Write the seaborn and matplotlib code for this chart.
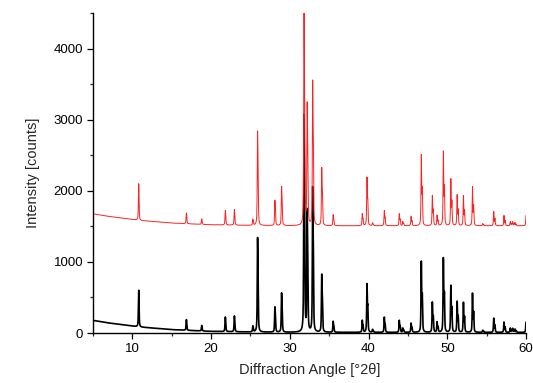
import numpy as np
import pandas as pd
import seaborn as sns
import matplotlib
matplotlib.use("Agg")
import matplotlib.pyplot as plt
from matplotlib.ticker import MultipleLocator

# ---- data ----
# peak positions (°2θ) and peak amplitudes above background (counts), measured pattern
peak_pos = [10.8, 16.85, 18.8, 21.8, 22.95, 25.3, 25.9, 28.1, 28.95, 31.8, 32.2, 32.9,
            34.05, 35.5, 39.2, 39.8, 40.5, 42.0, 43.9, 44.35, 45.4, 46.7, 48.1, 48.7,
            49.5, 50.45, 51.25, 52.05, 53.2, 54.5, 55.9, 57.2, 58.0, 58.3, 58.6, 60.0]
peak_amp = [515, 150, 77, 205, 222, 83, 1330, 356, 553, 3050, 1700, 2040,
            816, 155, 169, 685, 40, 215, 170, 60, 130, 1003, 426, 145,
            1050, 661, 436, 422, 553, 30, 201, 145, 60, 55, 45, 145]
# background of the measured pattern
bg_angle = [5, 6.7, 10.9, 15.1, 19.8, 25, 30, 40, 50, 60]
bg_counts = [178, 146, 85, 47, 24, 14, 10, 9, 9, 9]
# vertical offset of the red (reference) trace
red_offset = 1500

x_ticks = [10, 20, 30, 40, 50, 60]
y_ticks = [0, 1000, 2000, 3000, 4000]

# ---- build pattern from the peak table ----
angle = np.linspace(5, 60, 5501)
background = np.interp(angle, bg_angle, bg_counts)
signal = np.zeros_like(angle)
fwhm = 0.09
for p, a in zip(peak_pos, peak_amp):
    # K-alpha1 / K-alpha2 doublet, scaled so the peak top equals the read amplitude
    d2 = np.degrees(2 * np.tan(np.radians(p / 2)) * 0.00247)
    shape = np.zeros_like(angle)
    for pp, w in ((p, 1.0), (p + d2, 0.5)):
        g = (angle - pp) / (fwhm / 2)
        shape += w * (0.6 / (1 + g ** 2) + 0.4 * np.exp(-np.log(2) * g ** 2))
    signal += a * shape / shape.max()

black = background + signal
red = black + red_offset

df = pd.DataFrame({"angle": np.concatenate([angle, angle]),
                   "intensity": np.concatenate([black, red]),
                   "trace": ["measured"] * len(angle) + ["reference"] * len(angle)})

sns.set_style("ticks")
plt.rcParams["font.family"] = ["Liberation Sans", "DejaVu Sans"]

fig = plt.figure(figsize=(5.33, 3.83), dpi=100)
ax = fig.add_axes([0.1745, 0.1305, 0.8124, 0.8348])

sns.lineplot(data=df[df.trace == "measured"], x="angle", y="intensity", ax=ax,
             color="black", linewidth=1.2, estimator=None, sort=False)
sns.lineplot(data=df[df.trace == "reference"], x="angle", y="intensity", ax=ax,
             color="#ff2020", linewidth=0.7, estimator=None, sort=False)

ax.set_xlim(5, 60)
ax.set_ylim(0, 4500)
ax.set_xticks(x_ticks)
ax.set_yticks(y_ticks)
ax.xaxis.set_minor_locator(MultipleLocator(5))
ax.yaxis.set_minor_locator(MultipleLocator(500))
ax.tick_params(which="major", direction="out", length=4, width=0.9, labelsize=9.5,
               colors="black", pad=3)
ax.tick_params(which="minor", direction="out", length=2.3, width=0.9)
for s in ["top", "right"]:
    ax.spines[s].set_visible(False)
for s in ["left", "bottom"]:
    ax.spines[s].set_linewidth(1.0)
    ax.spines[s].set_color("black")

ax.set_xlabel("Diffraction Angle [°2θ]", fontsize=10.5, labelpad=6)
ax.set_ylabel("Intensity [counts]", fontsize=10.5, labelpad=10)

fig.savefig("out.png", dpi=100)
